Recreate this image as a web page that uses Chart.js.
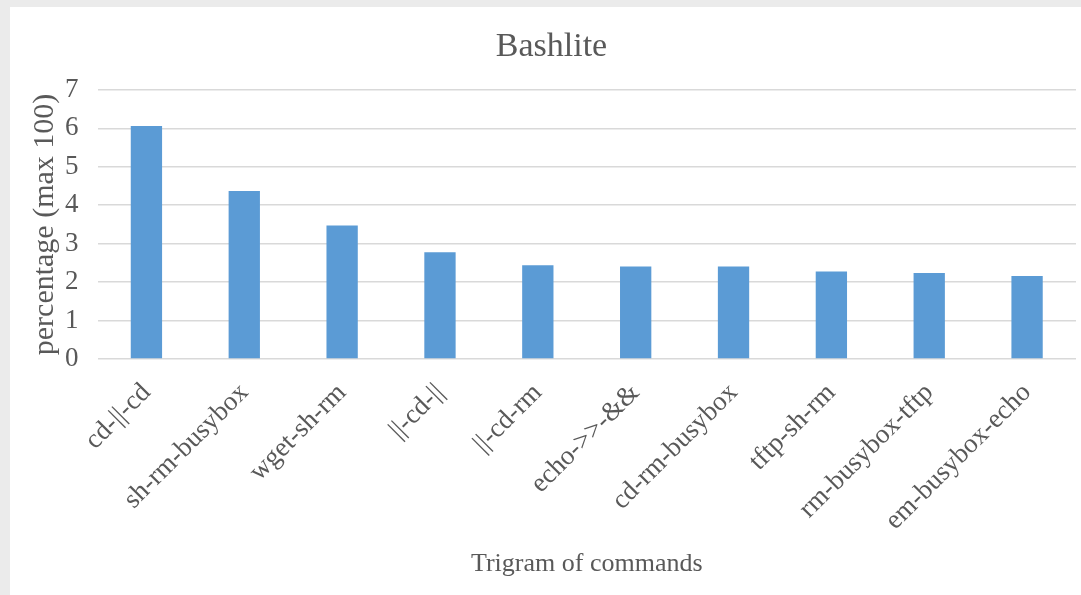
<!DOCTYPE html>
<html>
<head>
<meta charset="utf-8">
<script src="https://cdn.jsdelivr.net/npm/chart.js@4/dist/chart.umd.min.js"></script>
<style>
  html, body { margin: 0; padding: 0; background: #ebebeb; }
  #frame { position: absolute; left: 10px; top: 7px; width: 1071px; height: 588px; background: #fff; }
</style>
</head>
<body>
<div id="frame"><canvas id="chart"></canvas></div>
<script>
// trigrams on the x axis
const trigrams = ["cd-||-cd", "sh-rm-busybox", "wget-sh-rm", "||-cd-||", "||-cd-rm",
    "echo->>-&&", "cd-rm-busybox", "tftp-sh-rm", "rm-busybox-tftp", "em-busybox-echo"];
// percentage values
const percentages = [6.06, 4.37, 3.47, 2.78, 2.44, 2.41, 2.41, 2.28, 2.24, 2.16];
const yTicks = [0, 1, 2, 3, 4, 5, 6, 7];

const textColor = "#595959";
const serif = "'Liberation Serif', 'Times New Roman', serif";

new Chart(document.getElementById("chart"), {
    type: "bar",
    data: {
        labels: trigrams,
        datasets: [{
            label: "Bashlite",
            data: percentages,
            backgroundColor: "#5b9bd5",
            categoryPercentage: 1.0,
            barPercentage: 0.32
        }]
    },
    options: {
        responsive: true,
        maintainAspectRatio: false,
        animation: false,
        layout: { padding: { left: 17, right: 5, top: 0, bottom: 15 } },
        plugins: {
            legend: { display: false },
            tooltip: { enabled: false },
            title: {
                display: true,
                text: "Bashlite",
                color: textColor,
                font: { family: serif, size: 34, weight: "normal" },
                padding: { top: 20, bottom: 22 }
            }
        },
        scales: {
            x: {
                grid: { display: false },
                border: { display: false },
                ticks: {
                    color: textColor,
                    font: { family: serif, size: 27 },
                    minRotation: 45,
                    maxRotation: 45,
                    autoSkip: false,
                    padding: 10
                },
                title: {
                    display: true,
                    text: "Trigram of commands",
                    color: textColor,
                    font: { family: serif, size: 26 },
                    padding: { top: 2, bottom: 0 }
                }
            },
            y: {
                min: 0,
                max: 7,
                afterBuildTicks: (axis) => { axis.ticks = yTicks.map(v => ({ value: v })); },
                grid: { color: "#d9d9d9", lineWidth: 1.5, drawTicks: false },
                border: { display: false },
                ticks: {
                    color: textColor,
                    font: { family: serif, size: 27 },
                    autoSkip: false,
                    padding: 19
                },
                title: {
                    display: true,
                    text: "percentage (max 100)",
                    color: textColor,
                    font: { family: serif, size: 30 },
                    padding: { top: 0, bottom: -17 }
                }
            }
        }
    }
});
</script>
</body>
</html>
